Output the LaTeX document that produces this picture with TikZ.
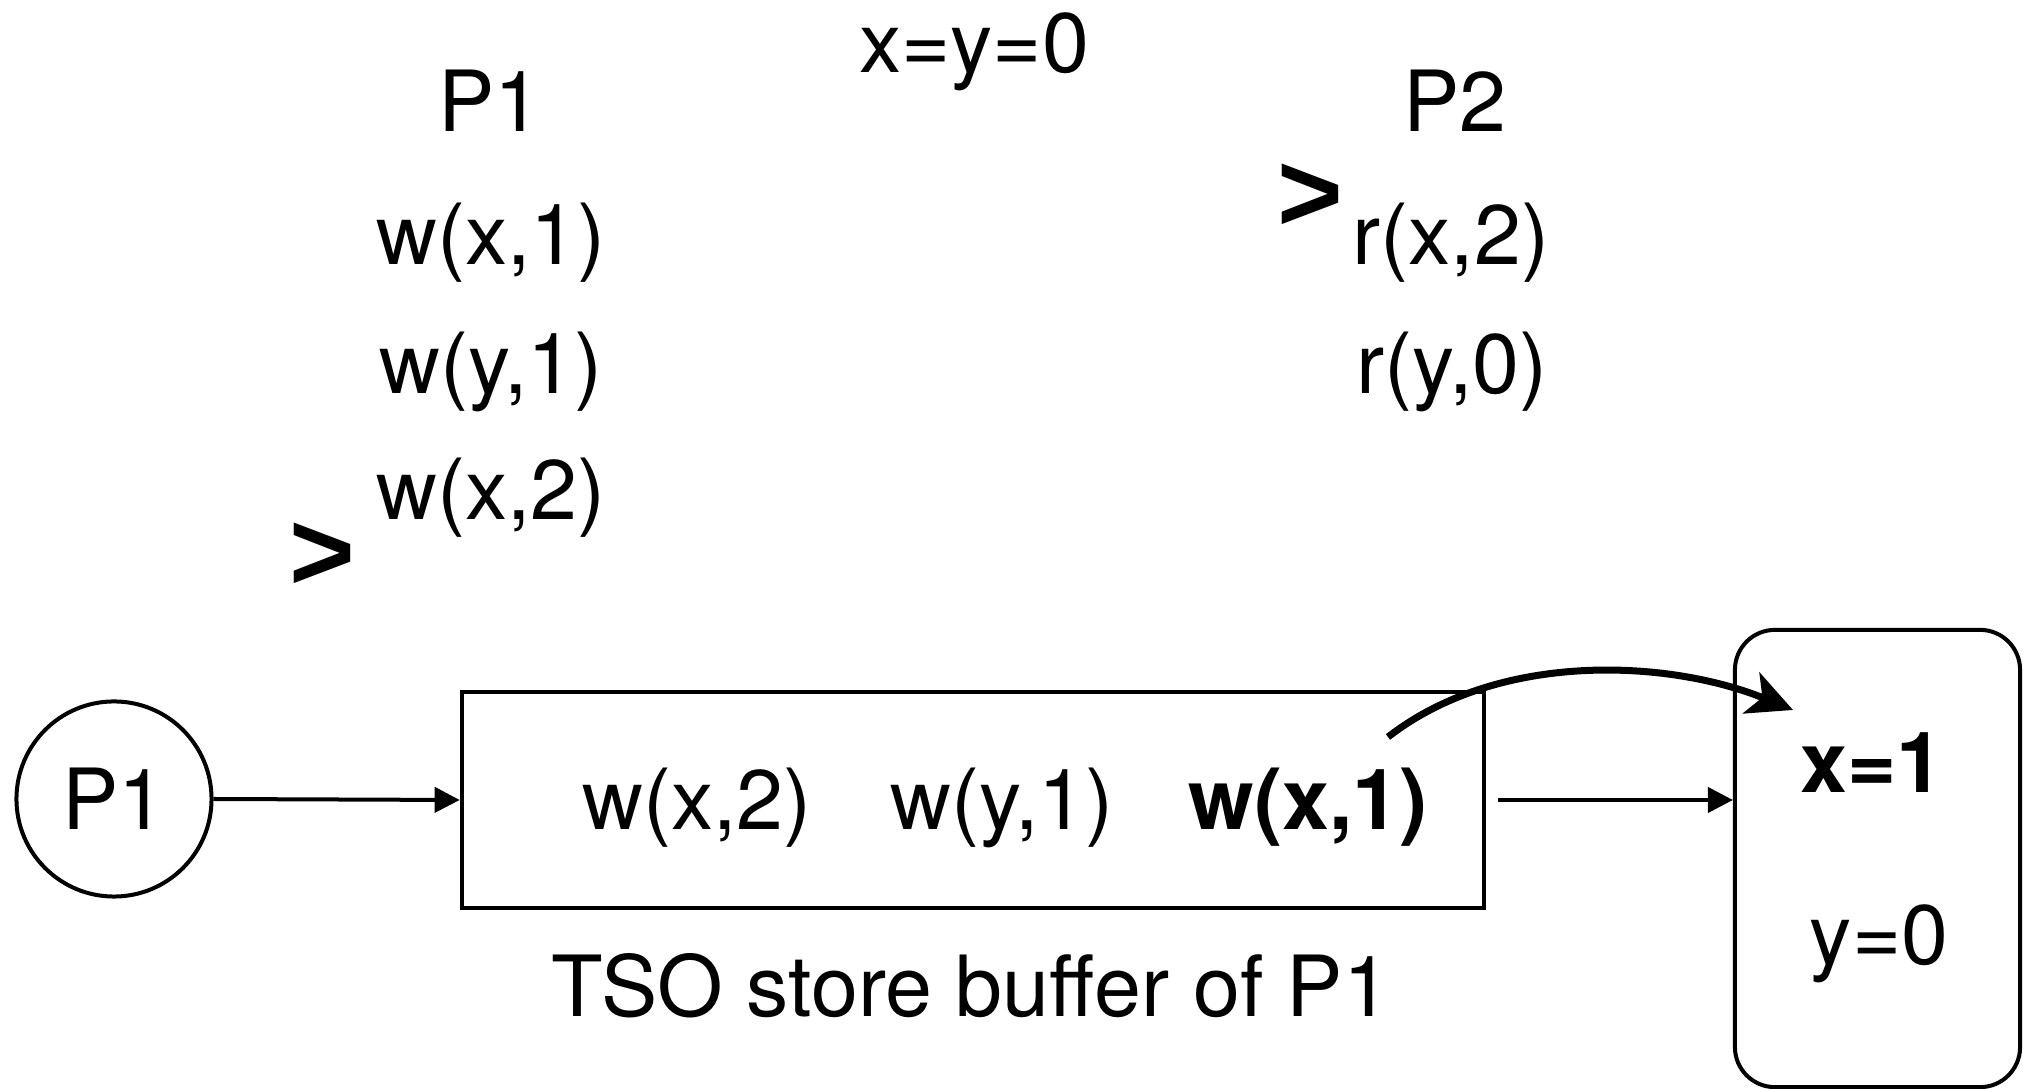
\documentclass[tikz,border=0pt]{standalone}
\usepackage{fontspec}
\setmainfont{TeX Gyre Heros}
\newfontfamily\gtfont{Liberation Sans}
\usetikzlibrary{arrows.meta}
\begin{document}
\begin{tikzpicture}[x=0.01cm, y=-0.01cm,
  every node/.style={font=\fontsize{24}{28}\selectfont, inner sep=0pt},
  lbl/.style={anchor=base},
  gt/.style={font=\gtfont\fontsize{32}{34}\selectfont\bfseries},
  boxline/.style={draw, line width=0.04cm},
  thinarrow/.style={line width=0.04cm, -{Triangle[length=0.25cm, width=0.25cm]}},
  thickarrow/.style={line width=0.07cm, -{Stealth[length=0.45cm, width=0.44cm, inset=0.12cm]}}]
\useasboundingbox (0,0) rectangle (2023,1089);

% header
\node[lbl] (init) at (974,73) {x=y=0};
\node[lbl] (p1h) at (490,132) {P1};
\node[lbl] (p2h) at (1455,132) {P2};

% P1 program
\node[lbl] (a1) at (491,265) {w(x,1)};
\node[lbl] (a2) at (491,394) {w(y,1)};
\node[lbl] (a3) at (491,520) {w(x,2)};
\node[gt] (g1) at (322,557) {>};

% P2 program
\node[lbl] (b1) at (1451,265) {r(x,2)};
\node[lbl] (b2) at (1452,394) {r(y,0)};
\node[gt] (g2) at (1310,198) {>};

% processor
\node[boxline, circle, minimum size=1.95cm] (proc) at (114,799) {P1};

% store buffer
\node[boxline, rectangle, minimum width=10.22cm, minimum height=2.16cm] (buf) at (973,800) {};
\node[lbl] (s1) at (697,830) {w(x,2)};
\node[lbl] (s2) at (1002,830) {w(y,1)};
\node[lbl, font=\fontsize{24}{28}\selectfont\bfseries] (s3) at (1308,830) {w(x,1)};
\node[lbl] (cap) at (971,1017) {TSO store buffer of P1};

% memory
\node[boxline, rectangle, rounded corners=0.4cm, minimum width=2.85cm, minimum height=4.57cm] (mem) at (1877.5,858.5) {};
\node[lbl, font=\fontsize{24}{28}\selectfont\bfseries] (mx) at (1872,793) {x=1};
\node[lbl] (my) at (1879,965) {y=0};

% connectors
\draw[thinarrow] (proc.east) -- (buf.west);
\draw[thinarrow, shorten <=0.12cm] (buf.east) -- (mem.west |- buf.east);
\coordinate (cs) at (1388,737);
\coordinate (ce) at (1793,710);
\draw[thickarrow] (cs) .. controls (1500,650) and (1670,660) .. (ce);
\end{tikzpicture}
\end{document}
